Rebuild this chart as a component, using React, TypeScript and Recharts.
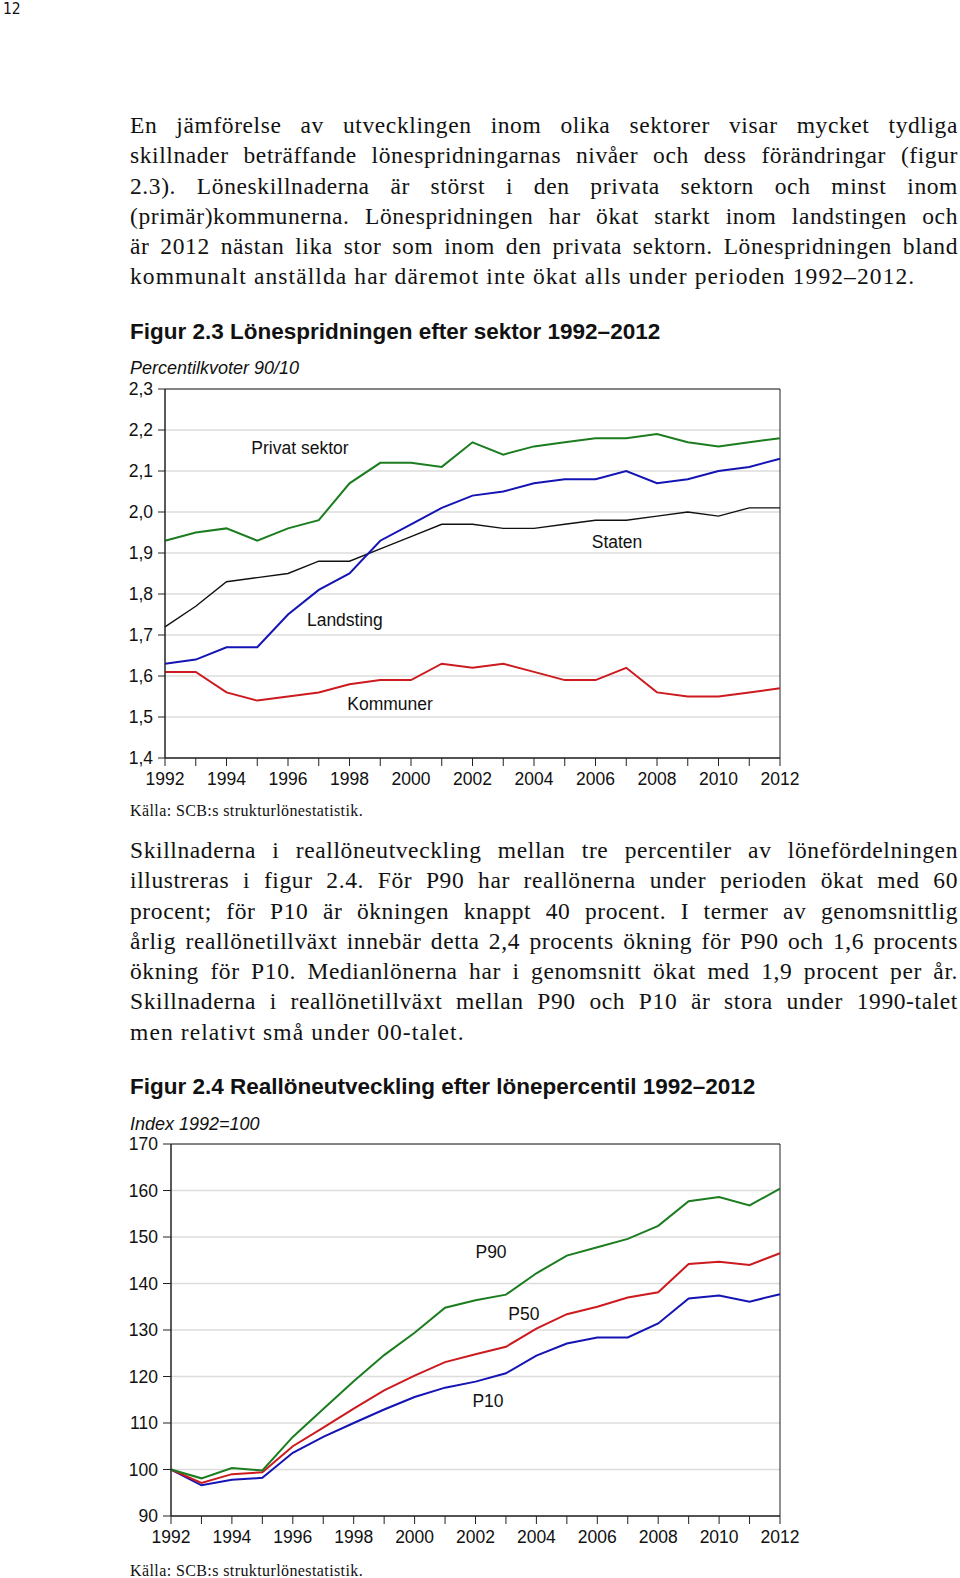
import React from "react";
import {
  LineChart,
  Line,
  XAxis,
  YAxis,
  CartesianGrid,
  ReferenceArea,
  ReferenceDot,
} from "recharts";

// Figur 2.3 – percentilkvot 90/10 per sektor
const years = [
  1992, 1993, 1994, 1995, 1996, 1997, 1998, 1999, 2000, 2001, 2002, 2003,
  2004, 2005, 2006, 2007, 2008, 2009, 2010, 2011, 2012,
];
const privatSektor = [
  1.93, 1.95, 1.96, 1.93, 1.96, 1.98, 2.07, 2.12, 2.12, 2.11, 2.17, 2.14,
  2.16, 2.17, 2.18, 2.18, 2.19, 2.17, 2.16, 2.17, 2.18,
];
const landsting = [
  1.63, 1.64, 1.67, 1.67, 1.75, 1.81, 1.85, 1.93, 1.97, 2.01, 2.04, 2.05,
  2.07, 2.08, 2.08, 2.1, 2.07, 2.08, 2.1, 2.11, 2.13,
];
const staten = [
  1.72, 1.77, 1.83, 1.84, 1.85, 1.88, 1.88, 1.91, 1.94, 1.97, 1.97, 1.96,
  1.96, 1.97, 1.98, 1.98, 1.99, 2.0, 1.99, 2.01, 2.01,
];
const kommuner = [
  1.61, 1.61, 1.56, 1.54, 1.55, 1.56, 1.58, 1.59, 1.59, 1.63, 1.62, 1.63,
  1.61, 1.59, 1.59, 1.62, 1.56, 1.55, 1.55, 1.56, 1.57,
];
const kvotTicks = [1.4, 1.5, 1.6, 1.7, 1.8, 1.9, 2.0, 2.1, 2.2, 2.3];

// Figur 2.4 – reallöneindex 1992=100
const p90 = [
  100, 98.1, 100.3, 99.8, 107, 113, 119, 124.6, 129.4, 134.8, 136.4, 137.6,
  142.2, 146, 147.8, 149.6, 152.4, 157.7, 158.6, 156.8, 160.4,
];
const p50 = [
  100, 97.1, 99, 99.4, 105, 109, 113.1, 117, 120.2, 123.1, 124.8, 126.4,
  130.3, 133.4, 135, 137, 138.1, 144.2, 144.7, 144, 146.5,
];
const p10 = [
  100, 96.6, 97.8, 98.2, 103.6, 107, 110, 112.9, 115.6, 117.6, 118.9, 120.7,
  124.5, 127.1, 128.4, 128.4, 131.4, 136.8, 137.4, 136.1, 137.7,
];
const indexTicks = [90, 100, 110, 120, 130, 140, 150, 160, 170];

const kvotData = years.map((year, i) => ({
  year,
  privat: privatSektor[i],
  landsting: landsting[i],
  staten: staten[i],
  kommuner: kommuner[i],
}));

const indexData = years.map((year, i) => ({
  year,
  p90: p90[i],
  p50: p50[i],
  p10: p10[i],
}));

const GREEN = "#1b7d1f";
const BLUE = "#1414b4";
const RED = "#cc1a1f";
const BLACK = "#111";

const sans = "'Liberation Sans', Arial, sans-serif";
const serif = "'Liberation Serif', 'Times New Roman', serif";

const tickStyle = { fill: "#111", fontSize: 17.5, fontFamily: sans };
const yearLabel = (v: number) => (v % 2 === 0 ? String(v) : "");

const inLabel = (text: string) => ({
  value: text,
  position: "center" as const,
  fill: "#111",
  fontSize: 17.5,
  fontFamily: sans,
});

const TextLines = ({ lines, top }: { lines: string[]; top: number }) => (
  <div
    style={{
      position: "absolute",
      left: 130,
      top,
      width: 828,
      fontFamily: serif,
      fontSize: 23.5,
      lineHeight: "30.3px",
      color: "#111",
    }}
  >
    {lines.map((l, i) => {
      const last = i === lines.length - 1;
      return (
        <div
          key={i}
          style={{
            whiteSpace: "nowrap",
            letterSpacing: last ? 1.1 : 0.6,
            textAlign: last ? "left" : "justify",
            textAlignLast: last ? "left" : "justify",
          }}
        >
          {l}
        </div>
      );
    })}
  </div>
);

const para1 = [
  "En jämförelse av utvecklingen inom olika sektorer visar mycket tydliga",
  "skillnader beträffande lönespridningarnas nivåer och dess förändringar (figur",
  "2.3). Löneskillnaderna är störst i den privata sektorn och minst inom",
  "(primär)kommunerna. Lönespridningen har ökat starkt inom landstingen och",
  "är 2012 nästan lika stor som inom den privata sektorn. Lönespridningen bland",
  "kommunalt anställda har däremot inte ökat alls under perioden 1992–2012.",
];

const para2 = [
  "Skillnaderna i reallöneutveckling mellan tre percentiler av lönefördelningen",
  "illustreras i figur 2.4. För P90 har reallönerna under perioden ökat med 60",
  "procent; för P10 är ökningen knappt 40 procent. I termer av genomsnittlig",
  "årlig reallönetillväxt innebär detta 2,4 procents ökning för P90 och 1,6 procents",
  "ökning för P10. Medianlönerna har i genomsnitt ökat med 1,9 procent per år.",
  "Skillnaderna i reallönetillväxt mellan P90 och P10 är stora under 1990-talet",
  "men relativt små under 00-talet.",
];

const abs = (left: number, top: number, extra: React.CSSProperties = {}) =>
  ({ position: "absolute", left, top, whiteSpace: "nowrap", ...extra }) as React.CSSProperties;

export default function App() {
  return (
    <div
      style={{
        position: "absolute",
        left: 0,
        top: 0,
        width: 960,
        height: 1578,
        background: "#fff",
        overflow: "hidden",
        color: "#111",
      }}
    >
      <div style={abs(3, 0, { fontFamily: "'DejaVu Sans Condensed', 'DejaVu Sans', sans-serif", fontSize: 15.5, lineHeight: "18px" })}>
        12
      </div>

      <TextLines lines={para1} top={110} />

      <div style={abs(130, 318, { fontFamily: sans, fontWeight: "bold", fontSize: 22.5, lineHeight: "28px" })}>
        Figur 2.3 Lönespridningen efter sektor 1992–2012
      </div>
      <div style={abs(130, 357, { fontFamily: sans, fontStyle: "italic", fontSize: 18, lineHeight: "22px" })}>
        Percentilkvoter 90/10
      </div>

      <div style={abs(0, 360)}>
        <LineChart
          width={960}
          height={440}
          data={kvotData}
          margin={{ top: 29, right: 180, left: 105, bottom: 12 }}
        >
          <CartesianGrid horizontal vertical={false} stroke="#dcdcdc" strokeWidth={1.5} />
          <XAxis
            dataKey="year"
            type="number"
            domain={[1992, 2012]}
            ticks={years}
            tickFormatter={yearLabel}
            interval={0}
            tickSize={8}
            tickMargin={7}
            height={30}
            stroke="#222"
            tick={tickStyle}
          />
          <YAxis
            type="number"
            domain={[1.4, 2.3]}
            ticks={kvotTicks}
            tickFormatter={(v: number) => v.toFixed(1).replace(".", ",")}
            interval={0}
            tickSize={7}
            tickMargin={5}
            width={60}
            stroke="#222"
            tick={tickStyle}
          />
          <ReferenceArea x1={1992} x2={2012} y1={1.4} y2={2.3} fill="none" stroke="#222" strokeWidth={1} />
          <Line dataKey="staten" stroke={BLACK} strokeWidth={1.4} dot={false} isAnimationActive={false} />
          <Line dataKey="landsting" stroke={BLUE} strokeWidth={2} dot={false} isAnimationActive={false} />
          <Line dataKey="privat" stroke={GREEN} strokeWidth={2} dot={false} isAnimationActive={false} />
          <Line dataKey="kommuner" stroke={RED} strokeWidth={2} dot={false} isAnimationActive={false} />
          <ReferenceDot x={1996.39} y={2.156} r={0} fill="none" stroke="none" label={inLabel("Privat sektor")} />
          <ReferenceDot x={2006.7} y={1.927} r={0} fill="none" stroke="none" label={inLabel("Staten")} />
          <ReferenceDot x={1997.85} y={1.737} r={0} fill="none" stroke="none" label={inLabel("Landsting")} />
          <ReferenceDot x={1999.32} y={1.532} r={0} fill="none" stroke="none" label={inLabel("Kommuner")} />
        </LineChart>
      </div>

      <div style={abs(130, 801, { fontFamily: serif, fontSize: 16, letterSpacing: 0.4, lineHeight: "20px" })}>
        Källa: SCB:s strukturlönestatistik.
      </div>

      <TextLines lines={para2} top={835} />

      <div style={abs(130, 1073, { fontFamily: sans, fontWeight: "bold", fontSize: 22.5, lineHeight: "28px" })}>
        Figur 2.4 Reallöneutveckling efter lönepercentil 1992–2012
      </div>
      <div style={abs(130, 1113, { fontFamily: sans, fontStyle: "italic", fontSize: 18, lineHeight: "22px" })}>
        Index 1992=100
      </div>

      <div style={abs(0, 1115)}>
        <LineChart
          width={960}
          height={443}
          data={indexData}
          margin={{ top: 29, right: 180, left: 111, bottom: 12 }}
        >
          <CartesianGrid horizontal vertical={false} stroke="#dcdcdc" strokeWidth={1.5} />
          <XAxis
            dataKey="year"
            type="number"
            domain={[1992, 2012]}
            ticks={years}
            tickFormatter={yearLabel}
            interval={0}
            tickSize={8}
            tickMargin={7}
            height={30}
            stroke="#222"
            tick={tickStyle}
          />
          <YAxis
            type="number"
            domain={[90, 170]}
            ticks={indexTicks}
            interval={0}
            tickSize={8}
            tickMargin={5}
            width={60}
            stroke="#222"
            tick={tickStyle}
          />
          <ReferenceArea x1={1992} x2={2012} y1={90} y2={170} fill="none" stroke="#222" strokeWidth={1} />
          <Line dataKey="p10" stroke={BLUE} strokeWidth={2} dot={false} isAnimationActive={false} />
          <Line dataKey="p50" stroke={RED} strokeWidth={2} dot={false} isAnimationActive={false} />
          <Line dataKey="p90" stroke={GREEN} strokeWidth={2} dot={false} isAnimationActive={false} />
          <ReferenceDot x={2002.51} y={146.8} r={0} fill="none" stroke="none" label={inLabel("P90")} />
          <ReferenceDot x={2003.59} y={133.4} r={0} fill="none" stroke="none" label={inLabel("P50")} />
          <ReferenceDot x={2002.41} y={114.7} r={0} fill="none" stroke="none" label={inLabel("P10")} />
        </LineChart>
      </div>

      <div style={abs(130, 1561, { fontFamily: serif, fontSize: 16, letterSpacing: 0.4, lineHeight: "20px" })}>
        Källa: SCB:s strukturlönestatistik.
      </div>
    </div>
  );
}
